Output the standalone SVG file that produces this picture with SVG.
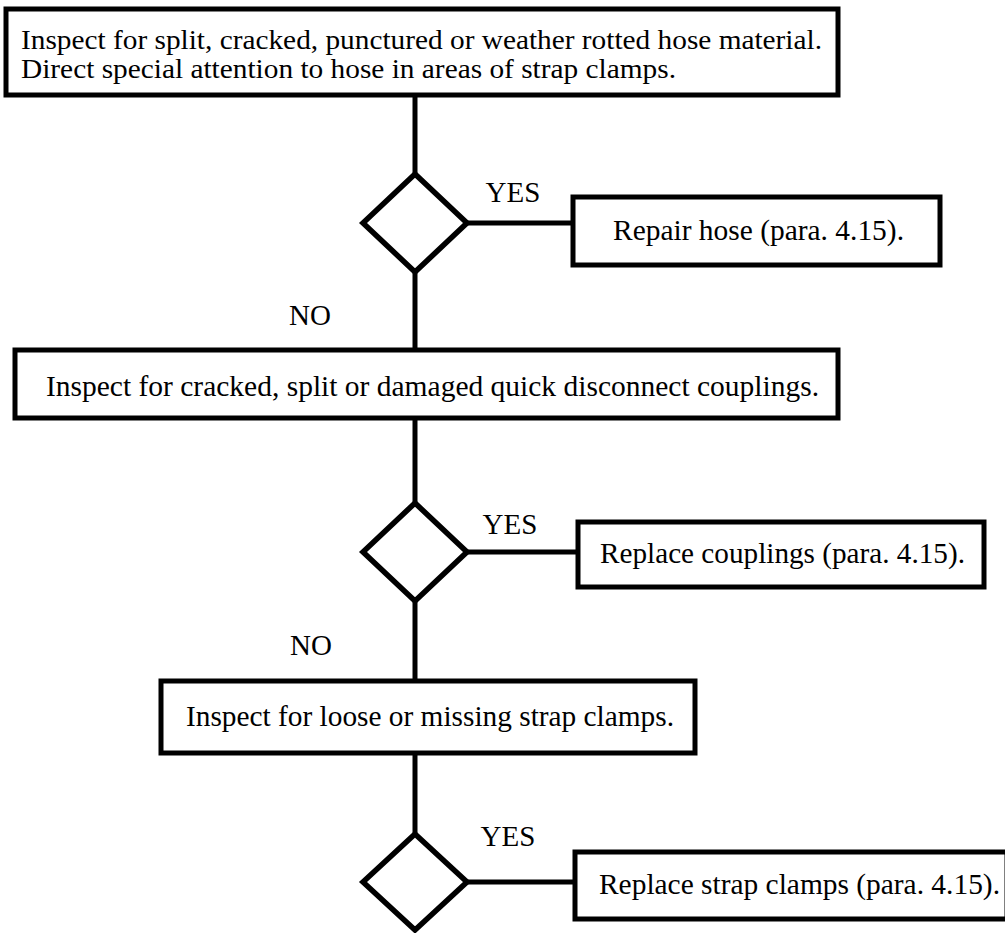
<svg xmlns="http://www.w3.org/2000/svg" width="1005" height="933" viewBox="0 0 1005 933">
<style>
.box{fill:#fff;stroke:#000;stroke-width:5}
.dia{fill:#fff;stroke:#000;stroke-width:5.5}
.ln{stroke:#000;stroke-width:5;fill:none}
text{font-family:"Liberation Serif","Times New Roman",serif;fill:#000;font-size:29px}
.c{text-anchor:middle}
.t1{font-size:27px}
</style>
<rect width="1005" height="933" fill="#fff"/>
<g id="connectors">
<line class="ln" x1="415" y1="95" x2="415" y2="174"/>
<line class="ln" x1="467" y1="223" x2="573" y2="223"/>
<line class="ln" x1="415" y1="272" x2="415" y2="350"/>
<line class="ln" x1="415" y1="418" x2="415" y2="503"/>
<line class="ln" x1="467" y1="552" x2="578" y2="552"/>
<line class="ln" x1="415" y1="601" x2="415" y2="681"/>
<line class="ln" x1="415" y1="753" x2="415" y2="834"/>
<line class="ln" x1="467" y1="882" x2="575" y2="882"/>
<text x="513" y="202" class="c">YES</text>
<text x="310" y="325" class="c">NO</text>
<text x="510" y="534" class="c">YES</text>
<text x="311" y="655" class="c">NO</text>
<text x="508" y="846" class="c">YES</text>
</g>
<g id="n1">
<rect class="box" x="6" y="9" width="832" height="86"/>
<text class="t1" x="21" y="49" textLength="801" lengthAdjust="spacingAndGlyphs">Inspect for split, cracked, punctured or weather rotted hose material.</text>
<text class="t1" x="21" y="78" textLength="655" lengthAdjust="spacingAndGlyphs">Direct special attention to hose in areas of strap clamps.</text>
</g>
<g id="d1"><polygon class="dia" points="415,174 467,223 415,272 363,223"/></g>
<g id="n2">
<rect class="box" x="573" y="197" width="367" height="68"/>
<text x="613" y="240" textLength="291" lengthAdjust="spacingAndGlyphs">Repair hose (para. 4.15).</text>
</g>
<g id="n3">
<rect class="box" x="15" y="350" width="823" height="68"/>
<text x="46" y="396" textLength="773" lengthAdjust="spacingAndGlyphs">Inspect for cracked, split or damaged quick disconnect couplings.</text>
</g>
<g id="d2"><polygon class="dia" points="415,503 467,552 415,601 363,552"/></g>
<g id="n4">
<rect class="box" x="578" y="522" width="406" height="65"/>
<text x="600" y="563" textLength="365" lengthAdjust="spacingAndGlyphs">Replace couplings (para. 4.15).</text>
</g>
<g id="n5">
<rect class="box" x="161" y="681" width="534" height="72"/>
<text x="186" y="726" textLength="488" lengthAdjust="spacingAndGlyphs">Inspect for loose or missing strap clamps.</text>
</g>
<g id="d3"><polygon class="dia" points="415,834 467,882 415,930 363,882"/></g>
<g id="n6">
<rect class="box" x="575" y="852" width="432" height="67"/>
<text x="599" y="894" textLength="401" lengthAdjust="spacingAndGlyphs">Replace strap clamps (para. 4.15).</text>
</g>
</svg>
